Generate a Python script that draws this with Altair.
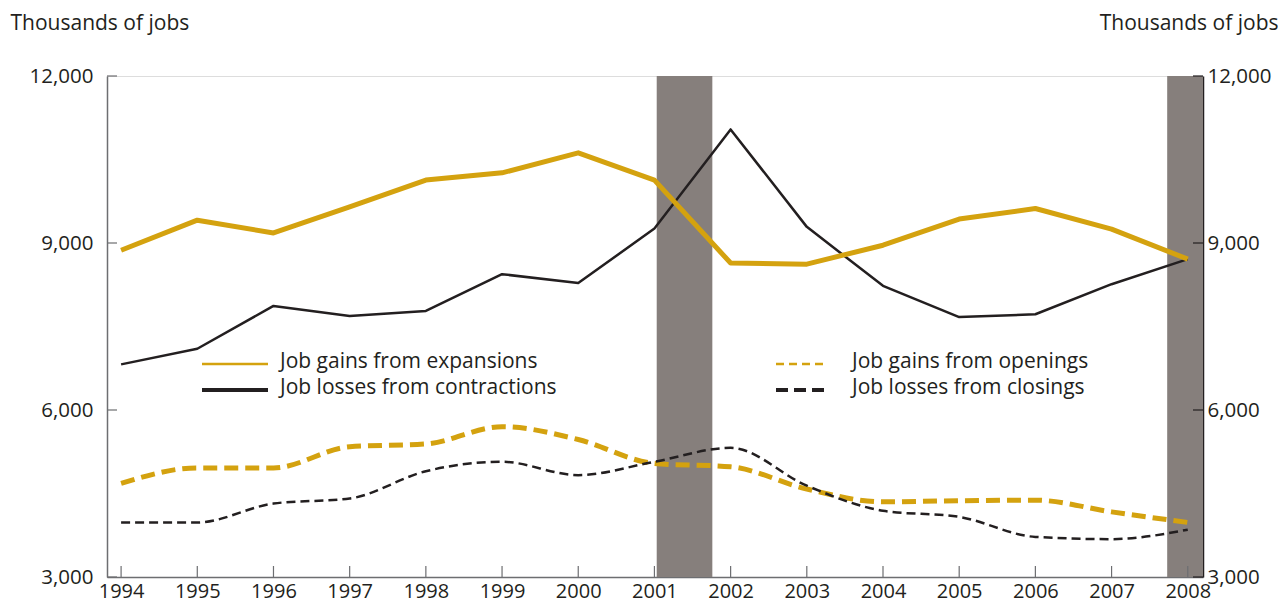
import altair as alt
import pandas as pd

# ---- data (thousands of jobs) ----
years = list(range(1994, 2009))
gains_expansions = [8870, 9410, 9180, 9650, 10130, 10260, 10620, 10130, 8640, 8620, 8960, 9430, 9620, 9250, 8710]
losses_contractions = [6820, 7100, 7870, 7690, 7780, 8440, 8280, 9260, 11040, 9290, 8230, 7670, 7720, 8260, 8710]
gains_openings = [4680, 4960, 4960, 5340, 5390, 5700, 5470, 5040, 4980, 4580, 4350, 4370, 4380, 4170, 3980]
losses_closings = [3980, 3980, 4320, 4410, 4900, 5070, 4830, 5070, 5320, 4640, 4190, 4080, 3720, 3680, 3850]
recession_start = [2001.03, 2007.73]
recession_end = [2001.76, 2008.2]
y_ticks = [3000, 6000, 9000, 12000]
series_names = [
    "Job gains from expansions",
    "Job losses from contractions",
    "Job gains from openings",
    "Job losses from closings",
]

W, H = 1096, 501
FONT = "Open Sans"
GOLD = "#D4A20F"
BLACK = "#231F20"
GREY_BAR = "#867F7C"
AXIS_GREY = "#6D6E71"

xscale = alt.Scale(domain=[1993.815, 2008.2], nice=False, zero=False)
yscale = alt.Scale(domain=[3000, 12000], nice=False, zero=False)

df = pd.DataFrame({
    "year": years,
    series_names[0]: gains_expansions,
    series_names[1]: losses_contractions,
    series_names[2]: gains_openings,
    series_names[3]: losses_closings,
})
long = df.melt("year", var_name="series", value_name="jobs")

xaxis = alt.Axis(values=years, format="d", tickSize=0, labelPadding=4, grid=False,
                 domainColor=AXIS_GREY, domainWidth=1.5, title=None,
                 labelFont=FONT, labelFontSize=20, labelColor=BLACK)

rec = pd.DataFrame({"start": recession_start, "end": recession_end})
bars = alt.Chart(rec).mark_rect(color=GREY_BAR).encode(
    x=alt.X("start:Q", scale=xscale, axis=xaxis),
    x2="end:Q",
    y=alt.value(0),
    y2=alt.value(H),
)

def line(name, color, width, dash=None, interp="linear"):
    kw = dict(color=color, strokeWidth=width, interpolate=interp, strokeCap="butt", strokeJoin="round")
    if dash:
        kw["strokeDash"] = dash
    return alt.Chart(long[long.series == name]).mark_line(**kw).encode(
        x=alt.X("year:Q", scale=xscale),
        y=alt.Y("jobs:Q", scale=yscale, axis=None),
    )

l_exp = line(series_names[0], GOLD, 5)
l_con = line(series_names[1], BLACK, 2.5)
l_open = line(series_names[2], GOLD, 5, dash=[14, 7], interp="monotone")
l_close = line(series_names[3], BLACK, 2.5, dash=[9, 5], interp="monotone")

# y axes (left and right) with inward ticks
ydf = pd.DataFrame({"v": y_ticks})
left_axis = alt.Chart(ydf).mark_rule(color=AXIS_GREY, strokeWidth=1.2).encode(
    y=alt.Y("v:Q", scale=yscale, axis=alt.Axis(
        orient="left", values=y_ticks, format=",d", tickSize=0, labelPadding=14, grid=False,
        domainColor=AXIS_GREY, domainWidth=1.5,
        labelFont=FONT, labelFontSize=20.5, labelColor=BLACK,
        title="Thousands of jobs", titleAngle=0, titleAlign="left", titleBaseline="middle",
        titleX=-97, titleY=-53, titleFont=FONT, titleFontSize=21, titleFontWeight="normal",
        titleColor=BLACK)),
    x=alt.value(0), x2=alt.value(10),
)
right_axis = alt.Chart(ydf).mark_rule(color=BLACK, strokeWidth=1.2).encode(
    y=alt.Y("v:Q", scale=yscale, axis=alt.Axis(
        orient="right", values=y_ticks, format=",d", tickSize=0, labelPadding=4, grid=False,
        domainColor=BLACK, domainWidth=1.5,
        labelFont=FONT, labelFontSize=20.5, labelColor=BLACK,
        title="Thousands of jobs", titleAngle=0, titleAlign="right", titleBaseline="middle",
        titleX=75, titleY=-53, titleFont=FONT, titleFontSize=21, titleFontWeight="normal",
        titleColor=BLACK)),
    x=alt.value(W), x2=alt.value(W - 10),
)

xticks = alt.Chart(pd.DataFrame({"year": years})).mark_rule(color=AXIS_GREY, strokeWidth=1.2).encode(
    x=alt.X("year:Q", scale=xscale),
    y=alt.value(H), y2=alt.value(H - 11),
)

def legend_item(label, color, width, dash, x0, x1, xt, y):
    d = pd.DataFrame({"label": [label]})
    kw = dict(color=color, strokeWidth=width, strokeCap="butt")
    if dash:
        kw["strokeDash"] = dash
    sym = alt.Chart(d).mark_rule(**kw).encode(x=alt.value(x0), x2=alt.value(x1), y=alt.value(y + 2))
    txt = alt.Chart(d).mark_text(align="left", baseline="middle", font=FONT, fontSize=21,
                                 color=BLACK).encode(x=alt.value(xt), y=alt.value(y), text="label:N")
    return sym + txt

leg = (
    legend_item(series_names[0], GOLD, 2.5, None, 95, 161, 173, 286)
    + legend_item(series_names[1], BLACK, 4, None, 95, 161, 173, 312)
    + legend_item(series_names[2], GOLD, 2.5, [8, 5], 669, 721, 745, 286)
    + legend_item(series_names[3], BLACK, 4, [12, 6], 669, 721, 745, 312)
)

chart = alt.layer(
    bars, left_axis, right_axis, l_open, l_close, l_con, l_exp, xticks, leg
).resolve_scale(y="independent").properties(
    width=W, height=H,
    padding={"left": 99, "top": 68, "right": 75, "bottom": 26},
    autosize=alt.AutoSizeParams(type="none"),
).configure_view(stroke=AXIS_GREY, strokeWidth=1.5).configure(background="white")

chart.save("out.html", embed_options={"renderer": "svg", "actions": False})
